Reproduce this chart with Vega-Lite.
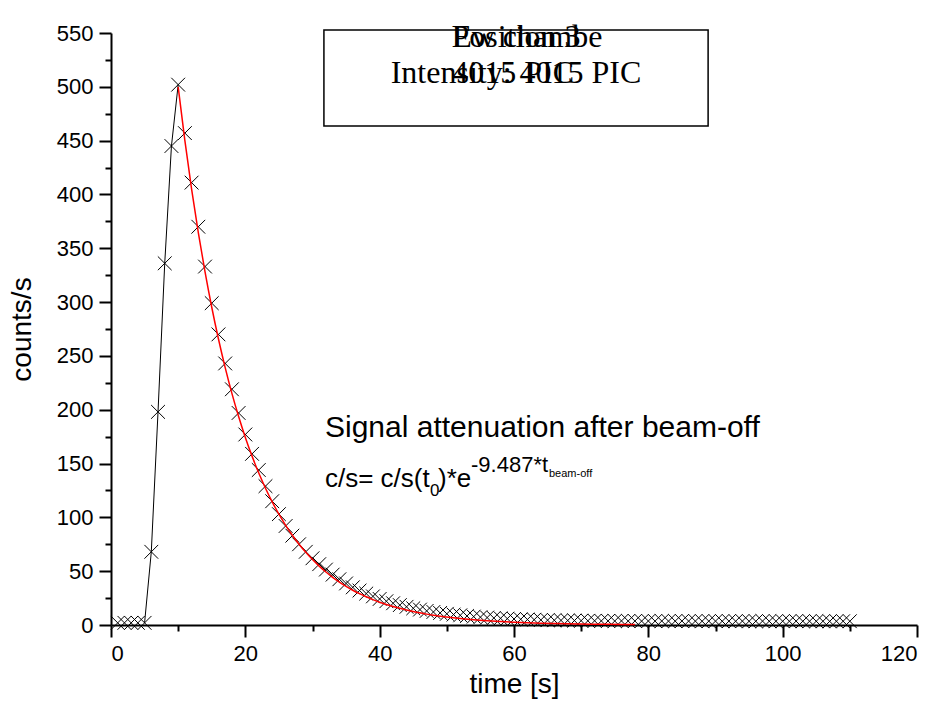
{
  "$schema": "https://vega.github.io/schema/vega-lite/v6.json",
  "width": 806,
  "height": 592,
  "autosize": {"type": "none"},
  "padding": {"left": 111, "top": 33, "right": 24, "bottom": 95},
  "background": "white",
  "config": {
    "view": {"stroke": null},
    "font": "Liberation Sans",
    "axis": {"grid": false, "domainColor": "black", "tickColor": "black", "domainWidth": 2, "tickWidth": 2, "labelColor": "black", "titleColor": "black", "labelFont": "Liberation Sans", "titleFont": "Liberation Sans", "titleFontWeight": "normal"}
  },
  "datasets": {
    "pts": [
      {"t": 1, "c": 2}, {"t": 2, "c": 2}, {"t": 3, "c": 2}, {"t": 4, "c": 2}, {"t": 5, "c": 2},
      {"t": 6, "c": 68}, {"t": 7, "c": 198}, {"t": 8, "c": 336}, {"t": 9, "c": 445}, {"t": 10, "c": 502},
      {"t": 11, "c": 457}, {"t": 12, "c": 411}, {"t": 13, "c": 370}, {"t": 14, "c": 333}, {"t": 15, "c": 299},
      {"t": 16, "c": 270}, {"t": 17, "c": 243}, {"t": 18, "c": 219}, {"t": 19, "c": 197}, {"t": 20, "c": 177},
      {"t": 21, "c": 159}, {"t": 22, "c": 144}, {"t": 23, "c": 129}, {"t": 24, "c": 115}, {"t": 25, "c": 103},
      {"t": 26, "c": 92}, {"t": 27, "c": 83}, {"t": 28, "c": 75}, {"t": 29, "c": 68}, {"t": 30, "c": 62},
      {"t": 31, "c": 56.5}, {"t": 32, "c": 51.5}, {"t": 33, "c": 46.8}, {"t": 34, "c": 42.5}, {"t": 35, "c": 38.6},
      {"t": 36, "c": 35}, {"t": 37, "c": 32}, {"t": 38, "c": 29.2}, {"t": 39, "c": 26.6}, {"t": 40, "c": 24.2},
      {"t": 41, "c": 22.1}, {"t": 42, "c": 20.2}, {"t": 43, "c": 18.5}, {"t": 44, "c": 16.9}, {"t": 45, "c": 15.5},
      {"t": 46, "c": 14.3}, {"t": 47, "c": 13.1}, {"t": 48, "c": 12.1}, {"t": 49, "c": 11.2}, {"t": 50, "c": 10.4},
      {"t": 51, "c": 9.7}, {"t": 52, "c": 9}, {"t": 53, "c": 8.4}, {"t": 54, "c": 7.8}, {"t": 55, "c": 7.3},
      {"t": 56, "c": 6.9}, {"t": 57, "c": 6.5}, {"t": 58, "c": 6.2}, {"t": 59, "c": 5.9}, {"t": 60, "c": 5.6},
      {"t": 61, "c": 5.3}, {"t": 62, "c": 5.1}, {"t": 63, "c": 4.9}, {"t": 64, "c": 4.7}, {"t": 65, "c": 4.5},
      {"t": 66, "c": 4.4}, {"t": 67, "c": 4.3}, {"t": 68, "c": 4.2}, {"t": 69, "c": 4.1}, {"t": 70, "c": 4},
      {"t": 71, "c": 3.9}, {"t": 72, "c": 3.9}, {"t": 73, "c": 3.8}, {"t": 74, "c": 3.8}, {"t": 75, "c": 3.7},
      {"t": 76, "c": 3.8}, {"t": 77, "c": 3.7}, {"t": 78, "c": 3.7}, {"t": 79, "c": 3.6}, {"t": 80, "c": 3.7},
      {"t": 81, "c": 3.6}, {"t": 82, "c": 3.7}, {"t": 83, "c": 3.6}, {"t": 84, "c": 3.6}, {"t": 85, "c": 3.7},
      {"t": 86, "c": 3.6}, {"t": 87, "c": 3.6}, {"t": 88, "c": 3.5}, {"t": 89, "c": 3.6}, {"t": 90, "c": 3.6},
      {"t": 91, "c": 3.5}, {"t": 92, "c": 3.6}, {"t": 93, "c": 3.5}, {"t": 94, "c": 3.6}, {"t": 95, "c": 3.5},
      {"t": 96, "c": 3.5}, {"t": 97, "c": 3.6}, {"t": 98, "c": 3.5}, {"t": 99, "c": 3.5}, {"t": 100, "c": 3.5},
      {"t": 101, "c": 3.5}, {"t": 102, "c": 3.6}, {"t": 103, "c": 3.5}, {"t": 104, "c": 3.5}, {"t": 105, "c": 3.5},
      {"t": 106, "c": 3.5}, {"t": 107, "c": 3.4}, {"t": 108, "c": 3.5}, {"t": 109, "c": 3.5}, {"t": 110, "c": 3.5}
    ],
    "fit": [
      {"t": 10, "c": 500}, {"t": 11, "c": 450}, {"t": 12, "c": 405}, {"t": 13, "c": 364.5}, {"t": 14, "c": 328},
      {"t": 15, "c": 295.2}, {"t": 16, "c": 265.7}, {"t": 17, "c": 239.1}, {"t": 18, "c": 215.2}, {"t": 19, "c": 193.7},
      {"t": 20, "c": 174.3}, {"t": 21, "c": 156.9}, {"t": 22, "c": 141.2}, {"t": 23, "c": 127.1}, {"t": 24, "c": 114.4},
      {"t": 25, "c": 102.9}, {"t": 26, "c": 92.6}, {"t": 27, "c": 83.4}, {"t": 28, "c": 75}, {"t": 29, "c": 67.5},
      {"t": 30, "c": 60.8}, {"t": 31, "c": 54.7}, {"t": 32, "c": 49.2}, {"t": 33, "c": 44.3}, {"t": 34, "c": 39.9},
      {"t": 35, "c": 35.9}, {"t": 36, "c": 32.3}, {"t": 37, "c": 29.1}, {"t": 38, "c": 26.2}, {"t": 39, "c": 23.6},
      {"t": 40, "c": 21.2}, {"t": 41, "c": 19.1}, {"t": 42, "c": 17.2}, {"t": 43, "c": 15.5}, {"t": 44, "c": 13.9},
      {"t": 45, "c": 12.5}, {"t": 46, "c": 11.3}, {"t": 47, "c": 10.1}, {"t": 48, "c": 9.1}, {"t": 49, "c": 8.2},
      {"t": 50, "c": 7.4}, {"t": 52, "c": 6}, {"t": 54, "c": 4.8}, {"t": 56, "c": 3.9}, {"t": 58, "c": 3.2},
      {"t": 60, "c": 2.6}, {"t": 62, "c": 2.1}, {"t": 64, "c": 1.7}, {"t": 66, "c": 1.4}, {"t": 68, "c": 1.1},
      {"t": 70, "c": 0.9}, {"t": 74, "c": 0.6}, {"t": 78, "c": 0.4}
    ],
    "box": [{"x1": 31.7, "x2": 88.9, "y1": 463.6, "y2": 552.8}],
    "notes": [
      {"kind": "line1", "x": 31.86, "y": 175, "text": "Signal attenuation after beam-off"},
      {"kind": "line2", "x": 31.86, "y": 128.2, "text": "c/s= c/s(t"},
      {"kind": "line2", "x": 48.68, "y": 128.2, "text": ")*e"},
      {"kind": "sub", "x": 47.49, "y": 119.8, "text": "0"},
      {"kind": "sup", "x": 53.6, "y": 142, "text": "-9.487*t"},
      {"kind": "subsub", "x": 65.21, "y": 137.5, "text": "beam-off"},
      {"kind": "legc", "x": 60.3, "y": 537, "text": "Position 3"},
      {"kind": "legc", "x": 60.3, "y": 503.5, "text": "Intensity: 4015 PIC"},
      {"kind": "legl", "x": 50.8, "y": 537, "text": "Ew chambe"},
      {"kind": "legl", "x": 50.8, "y": 503.5, "text": "4015 PIC"}
    ]
  },
  "resolve": {"axis": {"x": "independent", "y": "independent"}},
  "layer": [
    {
      "data": {"name": "pts"},
      "mark": {"type": "point", "shape": "M-1,-1L1,1M-1,1L1,-1", "size": 190, "filled": false, "stroke": "black", "strokeWidth": 1, "opacity": 1, "clip": false},
      "encoding": {
        "x": {"field": "t", "type": "quantitative", "scale": {"domain": [0, 120], "nice": false, "zero": false},
          "axis": {"orient": "bottom", "values": [0, 20, 40, 60, 80, 100, 120], "tickSize": 12, "labelFontSize": 22, "labelPadding": 6, "title": "time [s]", "titleFontSize": 28, "titlePadding": 6}},
        "y": {"field": "c", "type": "quantitative", "scale": {"domain": [0, 550], "nice": false, "zero": false},
          "axis": {"orient": "left", "values": [0, 50, 100, 150, 200, 250, 300, 350, 400, 450, 500, 550], "tickSize": 12, "labelFontSize": 22, "labelPadding": 6, "title": "counts/s", "titleFontSize": 28, "titlePadding": 20}}
      }
    },
    {
      "data": {"name": "pts"},
      "transform": [{"filter": "datum.t >= 5 && datum.t <= 10"}],
      "mark": {"type": "line", "color": "black", "strokeWidth": 1},
      "encoding": {
        "x": {"field": "t", "type": "quantitative",
          "axis": {"orient": "bottom", "values": [10, 30, 50, 70, 90, 110], "tickSize": 6, "labels": false, "domain": false, "title": null}},
        "y": {"field": "c", "type": "quantitative",
          "axis": {"orient": "left", "values": [25, 75, 125, 175, 225, 275, 325, 375, 425, 475, 525], "tickSize": 6, "labels": false, "domain": false, "title": null}}
      }
    },
    {
      "data": {"name": "fit"},
      "mark": {"type": "line", "color": "#ff0000", "strokeWidth": 1.5, "interpolate": "monotone"},
      "encoding": {
        "x": {"field": "t", "type": "quantitative", "axis": null},
        "y": {"field": "c", "type": "quantitative", "axis": null}
      }
    },
    {
      "data": {"name": "box"},
      "mark": {"type": "rect", "fill": "white", "stroke": "black", "strokeWidth": 1.5, "clip": false},
      "encoding": {
        "x": {"field": "x1", "type": "quantitative", "axis": null},
        "x2": {"field": "x2"},
        "y": {"field": "y1", "type": "quantitative", "axis": null},
        "y2": {"field": "y2"}
      }
    },
    {
      "data": {"name": "notes"},
      "transform": [{"filter": "datum.kind == 'line1'"}],
      "mark": {"type": "text", "align": "left", "baseline": "alphabetic", "fontSize": 30, "font": "Liberation Sans", "color": "black"},
      "encoding": {"x": {"field": "x", "type": "quantitative", "axis": null}, "y": {"field": "y", "type": "quantitative", "axis": null}, "text": {"field": "text"}}
    },
    {
      "data": {"name": "notes"},
      "transform": [{"filter": "datum.kind == 'line2'"}],
      "mark": {"type": "text", "align": "left", "baseline": "alphabetic", "fontSize": 26, "font": "Liberation Sans", "color": "black"},
      "encoding": {"x": {"field": "x", "type": "quantitative", "axis": null}, "y": {"field": "y", "type": "quantitative", "axis": null}, "text": {"field": "text"}}
    },
    {
      "data": {"name": "notes"},
      "transform": [{"filter": "datum.kind == 'sub'"}],
      "mark": {"type": "text", "align": "left", "baseline": "alphabetic", "fontSize": 17, "font": "Liberation Sans", "color": "black"},
      "encoding": {"x": {"field": "x", "type": "quantitative", "axis": null}, "y": {"field": "y", "type": "quantitative", "axis": null}, "text": {"field": "text"}}
    },
    {
      "data": {"name": "notes"},
      "transform": [{"filter": "datum.kind == 'sup'"}],
      "mark": {"type": "text", "align": "left", "baseline": "alphabetic", "fontSize": 22, "font": "Liberation Sans", "color": "black"},
      "encoding": {"x": {"field": "x", "type": "quantitative", "axis": null}, "y": {"field": "y", "type": "quantitative", "axis": null}, "text": {"field": "text"}}
    },
    {
      "data": {"name": "notes"},
      "transform": [{"filter": "datum.kind == 'subsub'"}],
      "mark": {"type": "text", "align": "left", "baseline": "alphabetic", "fontSize": 11, "font": "Liberation Sans", "color": "black"},
      "encoding": {"x": {"field": "x", "type": "quantitative", "axis": null}, "y": {"field": "y", "type": "quantitative", "axis": null}, "text": {"field": "text"}}
    },
    {
      "data": {"name": "notes"},
      "transform": [{"filter": "datum.kind == 'legc'"}],
      "mark": {"type": "text", "align": "center", "baseline": "alphabetic", "fontSize": 32, "font": "Liberation Serif", "color": "black", "clip": false},
      "encoding": {"x": {"field": "x", "type": "quantitative", "axis": null}, "y": {"field": "y", "type": "quantitative", "axis": null}, "text": {"field": "text"}}
    },
    {
      "data": {"name": "notes"},
      "transform": [{"filter": "datum.kind == 'legl'"}],
      "mark": {"type": "text", "align": "left", "baseline": "alphabetic", "fontSize": 32, "font": "Liberation Serif", "color": "black", "clip": false},
      "encoding": {"x": {"field": "x", "type": "quantitative", "axis": null}, "y": {"field": "y", "type": "quantitative", "axis": null}, "text": {"field": "text"}}
    }
  ]
}
